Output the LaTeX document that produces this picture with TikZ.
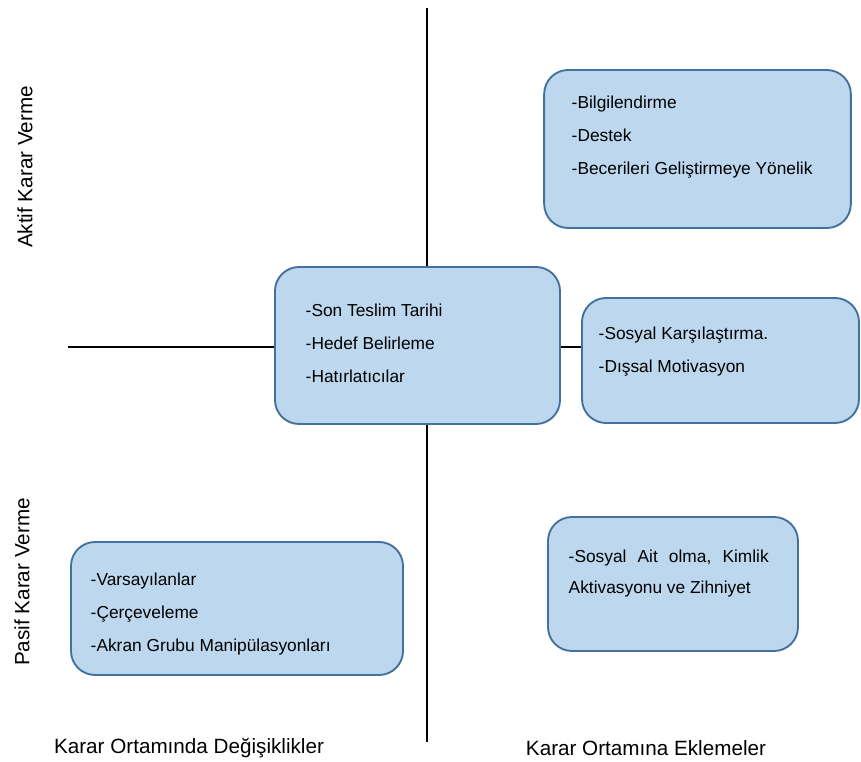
\documentclass[tikz,border=0pt]{standalone}
\usepackage{fontspec}
\setmainfont{Liberation Sans}
\usetikzlibrary{positioning}
\definecolor{kutudolgu}{HTML}{BDD7EE}
\definecolor{kutucizgi}{HTML}{41719C}

\begin{document}
\begin{tikzpicture}
[x=0.75pt,y=-0.75pt,line width=1.1pt,
 kutu/.style={draw=kutucizgi,fill=kutudolgu,line width=1.4pt,rounded corners=18pt,inner sep=0pt},
 yazi/.style={anchor=north west,inner sep=0pt,align=left,font=\fontsize{13}{24.75}\selectfont},
 eksen/.style={font=\fontsize{15.5}{18}\selectfont}]
\useasboundingbox (0,0) rectangle (861,762);
\coordinate (ust) at (427,8);
\coordinate (alt) at (427,742);
\coordinate (sol) at (68,347);
% kutular
\node[kutu,minimum width=230pt,minimum height=118.5pt] (aktifek) at (697.5,149) {};
\node[kutu,minimum width=213.75pt,minimum height=117.75pt] (orta) at (417.5,345.5) {};
\node[kutu,minimum width=207.75pt,minimum height=93.75pt] (sosyal) at (720.5,360.5) {};
\node[kutu,minimum width=249pt,minimum height=99.75pt] (pasifdeg) at (237,608.5) {};
\node[kutu,minimum width=187.5pt,minimum height=100.5pt] (pasifek) at (673,584) {};
% eksenler
\draw (ust) -- (ust |- orta.north);
\draw (orta.south -| alt) -- (alt);
\draw (sol) -- (sol -| orta.west);
\draw (orta.east |- sol) -- (sol -| sosyal.west);
% yazilar
\node[yazi] (aktifekyazi) at (571,95) {-Bilgilendirme\\-Destek\\-Becerileri Geliştirmeye Yönelik};
\node[yazi] (ortayazi) at (305,303) {-Son Teslim Tarihi\\-Hedef Belirleme\\-Hatırlatıcılar};
\node[yazi] (sosyalyazi) at (598,326) {-Sosyal Karşılaştırma.\\-Dışsal Motivasyon};
\node[yazi] (pasifdegyazi) at (90,572) {-Varsayılanlar\\-Çerçeveleme\\-Akran Grubu Manipülasyonları};
\node[yazi,font=\fontsize{13}{23.25}\selectfont] (pasifekyazi) at (568,549)
  {\hbox to 150pt{-Sosyal\hfil Ait\hfil olma,\hfil Kimlik}\\Aktivasyonu ve Zihniyet};
% eksen adlari
\node[eksen,rotate=90] (aktif) at (25,167) {Aktif Karar Verme};
\node[eksen,rotate=90] (pasif) at (22,582) {Pasif Karar Verme};
\node[eksen] (degisiklik) at (189,748) {Karar Ortamında Değişiklikler};
\node[eksen] (ekleme) at (646,748) {Karar Ortamına Eklemeler};
\end{tikzpicture}
\end{document}
